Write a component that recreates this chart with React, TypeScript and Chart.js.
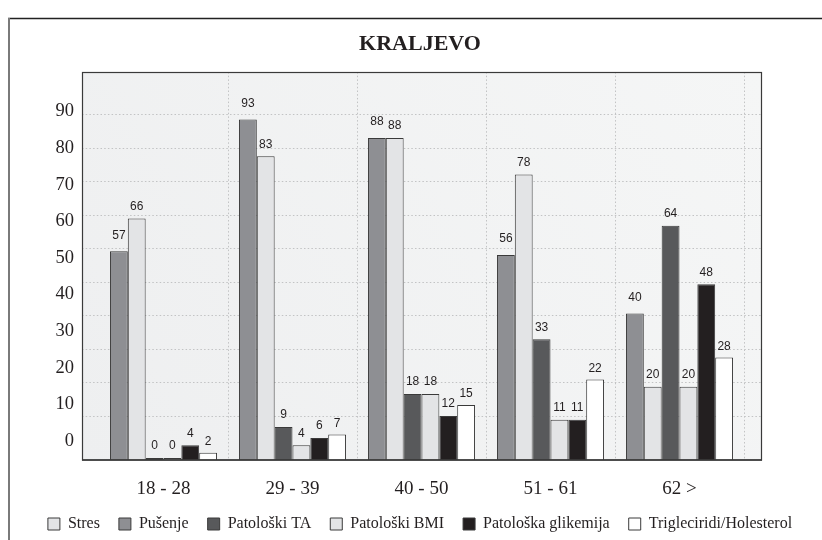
import { useEffect, useRef } from "react";
import { Chart, registerables } from "chart.js";

Chart.register(...registerables);

// Age groups on the x axis
const categories = ["18 - 28", "29 - 39", "40 - 50", "51 - 61", "62 >"];

// Series values, one per age group (in the order the bars stand in each group)
const pusenje = [57, 93, 88, 56, 40];
const stres = [66, 83, 88, 78, 20];
const patoloskiTA = [0, 9, 18, 33, 64];
const patoloskiBMI = [0, 4, 18, 11, 20];
const glikemija = [4, 6, 12, 11, 48];
const trigliceridi = [2, 7, 15, 22, 28];

// Value axis labels
const yTickValues = [0, 10, 20, 30, 40, 50, 60, 70, 80, 90];
// Dotted guide lines of the plot (decorative scale)
const guideValues = [10, 20, 30, 40, 50, 60, 70, 80, 90, 100];

// Order of entries in the legend
const legendOrder = [
  "Stres",
  "Pušenje",
  "Patološki TA",
  "Patološki BMI",
  "Patološka glikemija",
  "Trigleciridi/Holesterol",
];

const SERIF = '"Liberation Serif", "DejaVu Serif", serif';
const SANS = '"Liberation Sans", Arial, sans-serif';
const INK = "#231f20";
const EDGE = "#3a3a3a";
const BOX_PAD_LEFT = 17;
const BOX_PAD_RIGHT = 18;

const series = [
  { label: "Pušenje", data: pusenje, color: "#8e8f93", gap: 10 },
  { label: "Stres", data: stres, color: "#e3e4e6", gap: 6 },
  { label: "Patološki TA", data: patoloskiTA, color: "#58595b", gap: 6 },
  { label: "Patološki BMI", data: patoloskiBMI, color: "#e3e4e6", gap: 6 },
  { label: "Patološka glikemija", data: glikemija, color: "#231f20", gap: 6 },
  { label: "Trigleciridi/Holesterol", data: trigliceridi, color: "#ffffff", gap: 5 },
];

// Light panel behind the bars, a bit wider than the category band
const panelPlugin = {
  id: "panel",
  beforeDraw(chart: any) {
    const { ctx, chartArea: a } = chart;
    const l = a.left - BOX_PAD_LEFT;
    const r = a.right + BOX_PAD_RIGHT;
    const g = ctx.createLinearGradient(l, a.bottom, r, a.top);
    g.addColorStop(0, "#eeeff0");
    g.addColorStop(1, "#f5f6f6");
    ctx.save();
    ctx.fillStyle = g;
    ctx.fillRect(l, a.top, r - l, a.bottom - a.top);
    ctx.restore();
  },
  beforeDatasetsDraw(chart: any) {
    const { ctx, chartArea: a } = chart;
    const guide = chart.scales.guide;
    const l = a.left - BOX_PAD_LEFT;
    const r = a.right + BOX_PAD_RIGHT;
    ctx.save();
    ctx.strokeStyle = "#c2c3c4";
    ctx.lineWidth = 1;
    ctx.setLineDash([1.5, 2.2]);
    guide.ticks.forEach((t: any) => {
      const y = Math.round(guide.getPixelForValue(t.value)) + 0.5;
      ctx.beginPath();
      ctx.moveTo(l, y);
      ctx.lineTo(r, y);
      ctx.stroke();
    });
    ctx.restore();
  },
  afterDatasetsDraw(chart: any) {
    const { ctx, chartArea: a } = chart;
    // value labels above the bars
    ctx.save();
    ctx.font = `12px ${SANS}`;
    ctx.fillStyle = INK;
    ctx.textAlign = "center";
    ctx.textBaseline = "bottom";
    chart.data.datasets.forEach((ds: any, i: number) => {
      const meta = chart.getDatasetMeta(i);
      meta.data.forEach((bar: any, j: number) => {
        ctx.fillText(String(ds.data[j]), bar.x, bar.y - series[i].gap);
      });
    });
    ctx.restore();

    // panel frame and baseline
    const l = a.left - BOX_PAD_LEFT;
    const r = a.right + BOX_PAD_RIGHT;
    ctx.save();
    ctx.strokeStyle = EDGE;
    ctx.lineWidth = 1.2;
    ctx.strokeRect(l + 0.5, a.top + 0.5, r - l - 1, a.bottom - a.top - 0.5);
    ctx.lineWidth = 1.6;
    ctx.beginPath();
    ctx.moveTo(l, a.bottom);
    ctx.lineTo(r, a.bottom);
    ctx.stroke();
    ctx.restore();
  },
  afterDraw(chart: any) {
    const { ctx, width, height } = chart;
    ctx.save();
    ctx.strokeStyle = "#222222";
    ctx.lineWidth = 1.3;
    ctx.beginPath();
    ctx.moveTo(8, 18.5);
    ctx.lineTo(width, 18.5);
    ctx.stroke();
    ctx.strokeStyle = "#7a7a7a";
    ctx.lineWidth = 2;
    ctx.beginPath();
    ctx.moveTo(9, 18);
    ctx.lineTo(9, height);
    ctx.stroke();
    ctx.restore();
  },
};

export default function App() {
  const ref = useRef<HTMLCanvasElement>(null);

  useEffect(() => {
    document.body.style.margin = "0";
    const canvas = ref.current;
    if (!canvas) return;

    const chart = new Chart(canvas, {
      type: "bar",
      data: {
        labels: categories,
        datasets: series.map((s) => ({
          label: s.label,
          data: s.data,
          backgroundColor: s.color,
          borderColor: EDGE,
          borderWidth: 1,
          minBarLength: 2,
          categoryPercentage: 0.83,
          barPercentage: 1.0,
        })),
      },
      options: {
        animation: false,
        responsive: false,
        maintainAspectRatio: false,
        events: [],
        layout: { padding: { left: 18, right: 0, top: 0, bottom: 0 } },
        plugins: {
          title: {
            display: true,
            text: "KRALJEVO",
            color: INK,
            font: { family: SERIF, size: 22, weight: "bold" },
            padding: { top: 31, bottom: 14.6 },
          },
          legend: {
            position: "bottom",
            maxHeight: 43,
            labels: {
              boxWidth: 12,
              boxHeight: 12,
              padding: 19,
              color: INK,
              font: { family: SERIF, size: 16 },
              sort: (a: any, b: any) =>
                legendOrder.indexOf(a.text) - legendOrder.indexOf(b.text),
            },
          },
          tooltip: { enabled: false },
        },
        scales: {
          x: {
            grid: {
              offset: true,
              drawTicks: false,
              lineWidth: 1,
              color: (c: any) =>
                c.index === 0 || c.index === categories.length
                  ? "rgba(0,0,0,0)"
                  : "#c2c3c4",
            },
            border: { display: false, dash: [1.5, 2.2] },
            ticks: {
              color: INK,
              font: { family: SERIF, size: 19 },
              padding: 18,
            },
            afterFit: (s: any) => {
              s.height = 37;
            },
          },
          y: {
            position: "left",
            min: 0,
            max: 106,
            grid: { display: false, drawTicks: false },
            border: { display: false },
            ticks: {
              stepSize: 10,
              labelOffset: -19,
              padding: 25,
              color: INK,
              font: { family: SERIF, size: 18.5 },
            },
            afterBuildTicks: (s: any) => {
              s.ticks = yTickValues.map((v) => ({ value: v }));
            },
            afterFit: (s: any) => {
              s.width = 81;
            },
          },
          guide: {
            type: "linear",
            position: "right",
            min: -3.28,
            max: 112.54,
            grid: { display: false, drawTicks: false },
            border: { display: false },
            ticks: { display: false, stepSize: 10 },
            afterBuildTicks: (s: any) => {
              s.ticks = guideValues.map((v) => ({ value: v }));
            },
            afterFit: (s: any) => {
              s.width = 78;
            },
          },
        },
      } as any,
      plugins: [panelPlugin],
    });

    return () => chart.destroy();
  }, []);

  return (
    <div style={{ width: 822, height: 540 }}>
      <canvas
        ref={ref}
        width={822}
        height={540}
        style={{ display: "block", width: 822, height: 540 }}
      />
    </div>
  );
}
